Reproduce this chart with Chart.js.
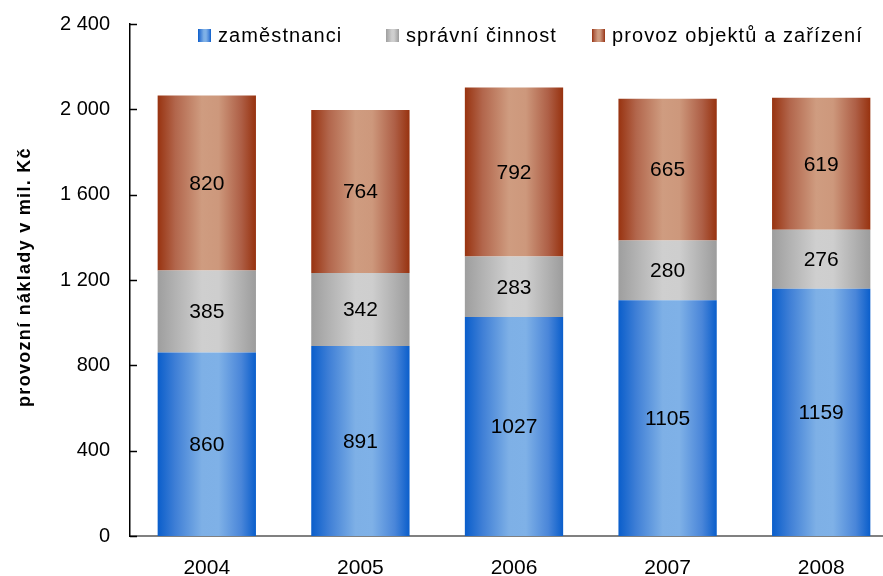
<!DOCTYPE html>
<html lang="cs">
<head>
<meta charset="utf-8">
<title>Provozní náklady</title>
<script src="https://cdn.jsdelivr.net/npm/chart.js@4/dist/chart.umd.min.js"></script>
<style>
    html, body { margin: 0; padding: 0; background: #fff; overflow: hidden; }
    #wrap { position: absolute; left: 0; top: 0; width: 900px; height: 576px; }
</style>
</head>
<body>
<div id="wrap"><canvas id="chart" width="900" height="576"></canvas></div>
<script>
const years = ["2004", "2005", "2006", "2007", "2008"];
const zamestnanci = [860, 891, 1027, 1105, 1159];
const spravniCinnost = [385, 342, 283, 280, 276];
const provozObjektu = [820, 764, 792, 665, 619];
const yTicks = [0, 400, 800, 1200, 1600, 2000, 2400];

const FONT = "'Liberation Sans', Arial, sans-serif";
const BAR_PCT = 0.64;

// shading stops (left -> right) for the cylinder look
const blueStops = [[0, "#0a5ecb"], [0.18, "#3f7fd6"], [0.45, "#7eb0e6"], [0.62, "#7fb1e7"], [0.85, "#4a86d9"], [1, "#0a5ecb"]];
const grayStops = [[0, "#9e9e9e"], [0.18, "#b2b2b2"], [0.45, "#cfcfcf"], [0.62, "#cecece"], [0.85, "#b0b0b0"], [1, "#9c9c9c"]];
const brownStops = [[0, "#983310"], [0.18, "#b2664c"], [0.45, "#cf9c80"], [0.62, "#cd987c"], [0.85, "#ae5f46"], [1, "#97320f"]];

function fmt(v) {
    return String(v).replace(/\B(?=(\d{3})+(?!\d))/g, " ");
}

function gradientFill(stops) {
    return (c) => {
        const chart = c.chart;
        const xs = chart.scales.x;
        if (!chart.chartArea || !xs) return stops[0][1];
        const cx = xs.getPixelForValue(c.dataIndex);
        const w = xs.width / years.length * BAR_PCT;
        const g = chart.ctx.createLinearGradient(cx - w / 2, 0, cx + w / 2, 0);
        stops.forEach(s => g.addColorStop(s[0], s[1]));
        return g;
    };
}

const legendItems = [
    { label: "zaměstnanci", stops: blueStops, x: 198 },
    { label: "správní činnost", stops: grayStops, x: 386 },
    { label: "provoz objektů a zařízení", stops: brownStops, x: 592 }
];

const extras = {
    id: "extras",
    afterDatasetsDraw(chart) {
        const ctx = chart.ctx;
        ctx.save();
        ctx.font = "21px " + FONT;
        ctx.fillStyle = "#000";
        ctx.textAlign = "center";
        ctx.textBaseline = "middle";
        chart.data.datasets.forEach((ds, i) => {
            chart.getDatasetMeta(i).data.forEach((bar, j) => {
                ctx.fillText(String(ds.data[j]), bar.x, (bar.y + bar.base) / 2 + 1);
            });
        });
        ctx.restore();
    },
    afterDraw(chart) {
        const ctx = chart.ctx;
        const ys = chart.scales.y;
        const left = chart.chartArea.left;
        ctx.save();
        // inward tick marks on the value axis
        ctx.strokeStyle = "#000";
        ctx.lineWidth = 1.5;
        yTicks.forEach(t => {
            const py = Math.round(ys.getPixelForValue(t)) + 0.5;
            ctx.beginPath();
            ctx.moveTo(left, py);
            ctx.lineTo(left + 7, py);
            ctx.stroke();
        });

        // axis title
        ctx.font = "bold 18px " + FONT;
        ctx.letterSpacing = "1.3px";
        ctx.fillStyle = "#000";
        ctx.translate(25, 277);
        ctx.rotate(-Math.PI / 2);
        ctx.textAlign = "center";
        ctx.textBaseline = "middle";
        ctx.fillText("provozní náklady v mil. Kč", 0, 0);
        ctx.restore();

        // legend
        ctx.save();
        ctx.font = "20px " + FONT;
        ctx.letterSpacing = "1.1px";
        ctx.textBaseline = "alphabetic";
        legendItems.forEach(item => {
            const g = ctx.createLinearGradient(item.x, 0, item.x + 13, 0);
            item.stops.forEach(s => g.addColorStop(s[0], s[1]));
            ctx.fillStyle = g;
            ctx.fillRect(item.x, 29, 13, 13);
            ctx.fillStyle = "#000";
            ctx.fillText(item.label, item.x + 20, 42);
        });
        ctx.restore();
    }
};

new Chart(document.getElementById("chart"), {
    type: "bar",
    data: {
        labels: years,
        datasets: [
            { label: "zaměstnanci", data: zamestnanci, backgroundColor: gradientFill(blueStops) },
            { label: "správní činnost", data: spravniCinnost, backgroundColor: gradientFill(grayStops) },
            { label: "provoz objektů a zařízení", data: provozObjektu, backgroundColor: gradientFill(brownStops) }
        ]
    },
    options: {
        responsive: false,
        animation: false,
        layout: { padding: { left: 0, right: 2, top: 24, bottom: 0 } },
        datasets: { bar: { barPercentage: BAR_PCT, categoryPercentage: 1, borderWidth: 0 } },
        plugins: { legend: { display: false }, tooltip: { enabled: false } },
        scales: {
            x: {
                stacked: true,
                grid: { display: false, drawTicks: false },
                border: { display: true, color: "#808080", width: 2 },
                ticks: { color: "#000", font: { family: FONT, size: 21 }, padding: 20 },
                afterFit(scale) { scale.height = 40; }
            },
            y: {
                stacked: true,
                min: 0,
                max: 2400,
                grid: { display: false, drawTicks: false },
                border: { display: true, color: "#000", width: 1.5 },
                afterBuildTicks(scale) { scale.ticks = yTicks.map(v => ({ value: v })); },
                ticks: { color: "#000", font: { family: FONT, size: 20 }, padding: 20, callback: v => fmt(v) },
                afterFit(scale) {
                    scale.width = 130;
                    scale.paddingTop = 0;
                    scale.paddingBottom = 0;
                }
            }
        }
    },
    plugins: [extras]
});
</script>
</body>
</html>
